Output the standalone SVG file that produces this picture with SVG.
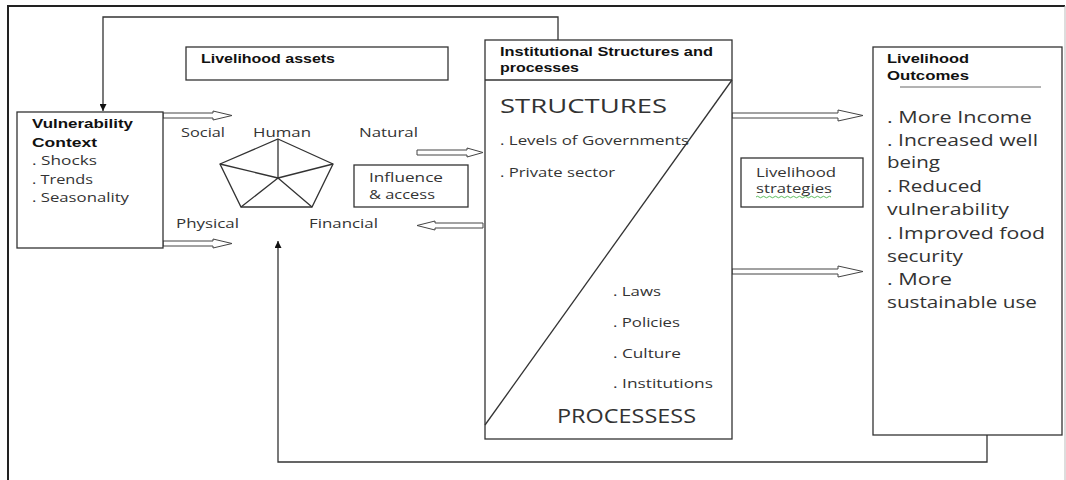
<svg xmlns="http://www.w3.org/2000/svg" width="1066" height="480" viewBox="0 0 1066 480">
<defs>
<style>
.box{fill:#fff;stroke:#333;stroke-width:1.3}
.ln{fill:none;stroke:#333;stroke-width:1.3}
.ha{fill:#fff;stroke:#444;stroke-width:1}
.t{font-family:"Open Sans","Liberation Sans",sans-serif;fill:#333;font-size:13px}
.b{font-family:"Liberation Sans",Arial,sans-serif;font-weight:bold;fill:#111;font-size:13px}
.big{font-family:"Open Sans","Liberation Sans",sans-serif;fill:#333;font-size:17px}
.cap{font-family:"Open Sans","Liberation Sans",sans-serif;fill:#333;font-size:20px}
</style>
<marker id="ah" viewBox="0 0 10 10" refX="10" refY="5" markerWidth="7" markerHeight="7" markerUnits="userSpaceOnUse" orient="auto">
<path d="M0,0 L10,5 L0,10 z" fill="#111"/>
</marker>
</defs>
<rect width="1066" height="480" fill="#fff"/>
<g id="frame">
<path d="M8,480 L8,6 L1065,6" fill="none" stroke="#222" stroke-width="2"/>
<line x1="1065" y1="6" x2="1065" y2="480" stroke="#bbb" stroke-width="1"/>
</g>
<g id="connectors">
<path class="ln" d="M558,40 L558,17 L103,17 L103,111" marker-end="url(#ah)"/>
<path class="ln" d="M987,435 L987,462 L278,462 L278,241" marker-end="url(#ah)"/>
<polygon class="ha" points="163,113 213,113 213,111 232,115.5 213,120 213,118 163,118"/>
<polygon class="ha" points="163,241 213,241 213,239 232,243.5 213,248 213,246 163,246"/>
<polygon class="ha" points="417,150 467,150 467,148 483,152.5 467,157 467,155 417,155"/>
<polygon class="ha" points="483,223 435,223 435,221 417,225.5 435,230 435,228 483,228"/>
<polygon class="ha" points="732,113 838,113 838,110 863,115.5 838,121 838,118 732,118"/>
<polygon class="ha" points="732,269 838,269 838,266 863,271.5 838,277 838,274 732,274"/>
</g>
<g id="vulnerability">
<rect class="box" x="17" y="112" width="146" height="136"/>
<text class="b" x="32" y="128" textLength="101" lengthAdjust="spacingAndGlyphs">Vulnerability</text>
<text class="b" x="32" y="147" textLength="65" lengthAdjust="spacingAndGlyphs">Context</text>
<text class="t" x="32" y="165" textLength="65" lengthAdjust="spacingAndGlyphs">. Shocks</text>
<text class="t" x="32" y="184" textLength="61" lengthAdjust="spacingAndGlyphs">. Trends</text>
<text class="t" x="32" y="202" textLength="97" lengthAdjust="spacingAndGlyphs">. Seasonality</text>
</g>
<g id="assets-title">
<rect class="box" x="186" y="47" width="262" height="33"/>
<text class="b" x="201" y="63" textLength="134" lengthAdjust="spacingAndGlyphs">Livelihood assets</text>
</g>
<g id="assets">
<polygon class="ln" points="278,139 333,164 312,207 241,207 220,164" stroke-width="1"/>
<path class="ln" stroke-width="1" d="M278,178 L278,139 M278,178 L333,164 M278,178 L312,207 M278,178 L241,207 M278,178 L220,164"/>
<text class="t" x="181" y="137" textLength="44" lengthAdjust="spacingAndGlyphs">Social</text>
<text class="t" x="253" y="137" textLength="58" lengthAdjust="spacingAndGlyphs">Human</text>
<text class="t" x="359" y="137" textLength="59" lengthAdjust="spacingAndGlyphs">Natural</text>
<text class="t" x="176" y="228" textLength="63" lengthAdjust="spacingAndGlyphs">Physical</text>
<text class="t" x="309" y="228" textLength="69" lengthAdjust="spacingAndGlyphs">Financial</text>
</g>
<g id="influence">
<rect class="box" x="354" y="165" width="114" height="42"/>
<text class="t" x="369" y="182" textLength="74" lengthAdjust="spacingAndGlyphs">Influence</text>
<text class="t" x="369" y="199" textLength="66" lengthAdjust="spacingAndGlyphs">&amp; access</text>
</g>
<g id="institutional">
<rect class="box" x="485" y="40" width="247" height="399"/>
<line class="ln" x1="485" y1="80" x2="732" y2="80"/>
<line class="ln" stroke-width="1" x1="732" y1="80" x2="485" y2="425"/>
<text class="b" x="500" y="56" textLength="213" lengthAdjust="spacingAndGlyphs">Institutional Structures and</text>
<text class="b" x="500" y="72" textLength="79" lengthAdjust="spacingAndGlyphs">processes</text>
<text class="cap" x="500" y="113" textLength="167" lengthAdjust="spacingAndGlyphs">STRUCTURES</text>
<text class="t" x="500" y="145" textLength="189" lengthAdjust="spacingAndGlyphs">. Levels of Governments</text>
<text class="t" x="500" y="177" textLength="115" lengthAdjust="spacingAndGlyphs">. Private sector</text>
<text class="t" x="613" y="296" textLength="48" lengthAdjust="spacingAndGlyphs">. Laws</text>
<text class="t" x="613" y="327" textLength="67" lengthAdjust="spacingAndGlyphs">. Policies</text>
<text class="t" x="613" y="358" textLength="68" lengthAdjust="spacingAndGlyphs">. Culture</text>
<text class="t" x="613" y="388" textLength="100" lengthAdjust="spacingAndGlyphs">. Institutions</text>
<text class="cap" x="557" y="423" textLength="139" lengthAdjust="spacingAndGlyphs">PROCESSESS</text>
</g>
<g id="strategies">
<rect class="box" x="741" y="158" width="122" height="49"/>
<text class="t" x="756" y="177" textLength="80" lengthAdjust="spacingAndGlyphs">Livelihood</text>
<text class="t" x="756" y="193" textLength="76" lengthAdjust="spacingAndGlyphs">strategies</text>
<path d="M756,197 q1.5,-1.5 3,0 t3,0 t3,0 t3,0 t3,0 t3,0 t3,0 t3,0 t3,0 t3,0 t3,0 t3,0 t3,0 t3,0 t3,0 t3,0 t3,0 t3,0 t3,0 t3,0 t3,0 t3,0 t3,0 t3,0 t3,0" fill="none" stroke="#3a3" stroke-width="0.8"/>
</g>
<g id="outcomes">
<rect class="box" x="873" y="47" width="189" height="388"/>
<text class="b" x="887" y="63" textLength="82" lengthAdjust="spacingAndGlyphs">Livelihood</text>
<text class="b" x="887" y="80" textLength="82" lengthAdjust="spacingAndGlyphs">Outcomes</text>
<line x1="900" y1="87" x2="1041" y2="87" stroke="#666" stroke-width="1"/>
<text class="big" x="887" y="123" textLength="145" lengthAdjust="spacingAndGlyphs">. More Income</text>
<text class="big" x="887" y="146" textLength="151" lengthAdjust="spacingAndGlyphs">. Increased well</text>
<text class="big" x="887" y="168" textLength="53" lengthAdjust="spacingAndGlyphs">being</text>
<text class="big" x="887" y="192" textLength="95" lengthAdjust="spacingAndGlyphs">. Reduced</text>
<text class="big" x="887" y="215" textLength="122" lengthAdjust="spacingAndGlyphs">vulnerability</text>
<text class="big" x="887" y="239" textLength="158" lengthAdjust="spacingAndGlyphs">. Improved food</text>
<text class="big" x="887" y="262" textLength="76" lengthAdjust="spacingAndGlyphs">security</text>
<text class="big" x="887" y="285" textLength="65" lengthAdjust="spacingAndGlyphs">. More</text>
<text class="big" x="887" y="308" textLength="150" lengthAdjust="spacingAndGlyphs">sustainable use</text>
</g>
</svg>
